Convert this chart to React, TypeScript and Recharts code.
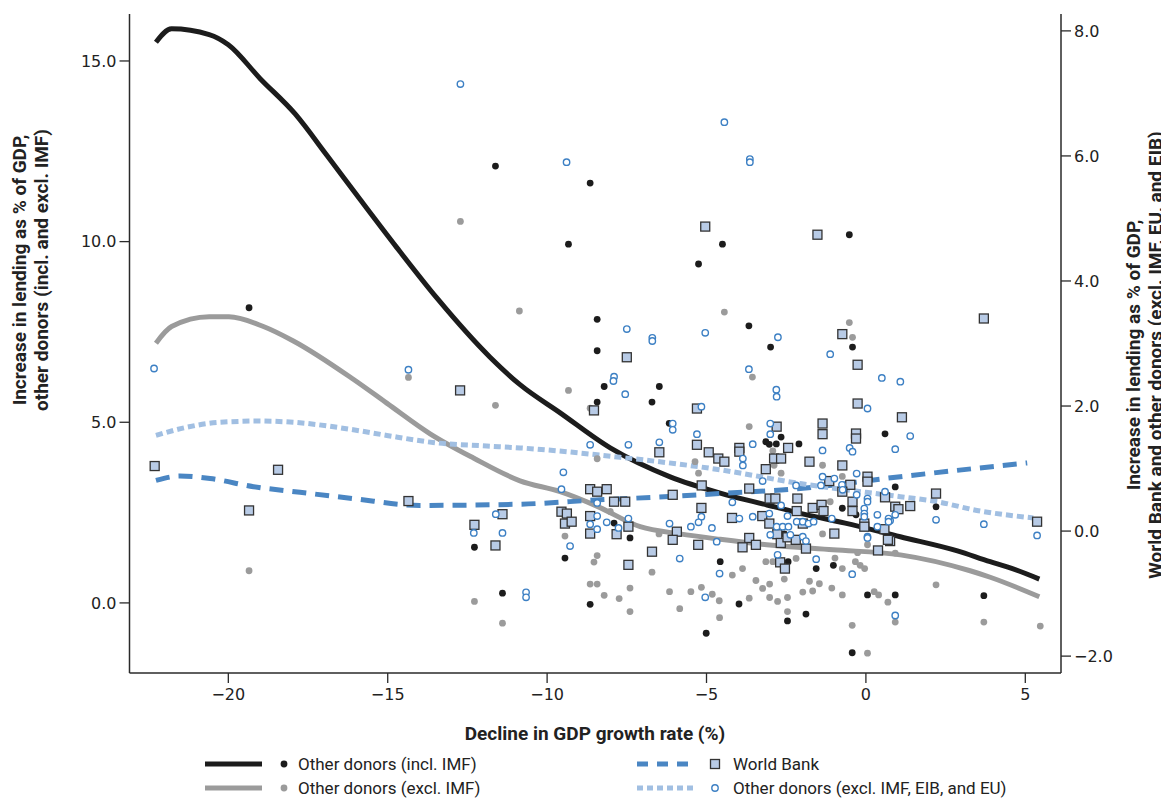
import React from "react";
import { ComposedChart, Line, Scatter, XAxis, YAxis } from "recharts";

// lowess fits, [decline in GDP growth, lending % of GDP]
const inclImfFit: [number, number][] = [
  [-22.27, 15.52], [-21.78, 15.89], [-20.6, 15.73], [-20.0, 15.45], [-19.0, 14.51],
  [-17.91, 13.54], [-16.91, 12.39], [-15.87, 11.17], [-14.72, 9.84], [-13.46, 8.44],
  [-11.79, 6.8], [-10.85, 6.04], [-9.59, 5.26], [-8.02, 4.29], [-6.14, 3.49],
  [-4.57, 3.04], [-3.1, 2.71], [-2.06, 2.48], [-0.65, 2.21], [1.08, 1.83],
  [2.87, 1.44], [3.9, 1.14], [4.43, 1.0], [5.44, 0.66],
];
const exclImfFit: [number, number][] = [
  [-22.27, 7.19], [-21.78, 7.65], [-20.6, 7.92], [-19.98, 7.92], [-18.9, 7.65],
  [-17.96, 7.25], [-16.08, 6.19], [-15.03, 5.53], [-13.67, 4.68], [-12.31, 4.01],
  [-10.85, 3.38], [-9.59, 3.08], [-8.44, 2.68], [-7.08, 2.11], [-5.83, 1.91],
  [-4.57, 1.76], [-3.11, 1.61], [-1.03, 1.47], [1.08, 1.33], [3.27, 0.89],
  [3.9, 0.71], [5.44, 0.17],
];
const worldBankFit: [number, number][] = [
  [-22.27, 0.81], [-21.52, 0.88], [-20.57, 0.84], [-19.21, 0.71], [-17.75, 0.62],
  [-16.08, 0.52], [-13.99, 0.41], [-10.85, 0.43], [-8.34, 0.5], [-6.67, 0.54],
  [-4.57, 0.6], [-2.06, 0.68], [1.08, 0.87], [5.06, 1.09],
];
const otherFit: [number, number][] = [
  [-22.27, 1.53], [-21.31, 1.66], [-20.27, 1.74], [-19.01, 1.76], [-17.96, 1.74],
  [-16.08, 1.62], [-15.03, 1.53], [-13.46, 1.41], [-11.89, 1.36], [-10.85, 1.33],
  [-7.71, 1.18], [-4.57, 0.98], [-2.06, 0.76], [1.08, 0.55], [2.12, 0.48],
  [3.59, 0.32], [5.25, 0.21],
];

// country observations
const inclImfPts: [number, number][] = [
  [-11.62, 12.09], [-19.35, 8.17], [-12.28, 1.54], [-11.4, 0.27], [-8.65, 11.62],
  [-9.33, 9.93], [-5.25, 9.38], [-4.5, 9.93], [-8.43, 7.85], [-8.43, 6.98],
  [-0.52, 10.19], [-3.67, 7.67], [-2.99, 7.08], [-0.42, 7.08], [0.92, 3.21],
  [2.2, 2.66], [0.92, 0.22], [3.7, 0.2], [-8.21, 5.99], [-6.48, 5.99],
  [-8.43, 5.56], [-6.71, 5.56], [-6.17, 4.97], [-9.44, 1.24], [-7.9, 2.21],
  [-7.4, 1.8], [-8.65, -0.04], [-5.01, -0.84], [-4.57, 1.14], [-3.14, 4.46],
  [-3.03, 4.39], [-2.81, 4.4], [-2.66, 4.59], [-2.1, 4.4], [-2.56, 1.91],
  [0.6, 4.68], [-0.74, 2.62], [-0.31, 2.44], [-2.44, 1.14], [-1.56, 0.95],
  [-1.02, 1.04], [0.05, 0.22], [-0.43, -1.38], [-3.98, -0.03], [-2.46, -0.5],
  [-1.88, -0.31],
];
const exclImfPts: [number, number][] = [
  [-12.72, 10.56], [-10.87, 8.08], [-14.35, 6.24], [-11.62, 5.47], [-12.28, 0.04],
  [-19.35, 0.89], [-11.4, -0.56], [-4.44, 8.05], [-0.52, 7.76], [-0.42, 7.35],
  [-3.56, 6.25], [0.92, 1.38], [2.2, 0.5], [0.92, -0.53], [3.7, -0.53],
  [5.47, -0.64], [-9.33, 5.88], [-8.65, 5.39], [-8.43, 3.99], [-5.36, 3.91],
  [-5.25, 3.59], [-9.44, 1.85], [-8.02, 2.53], [-8.43, 1.31], [-8.53, 1.13],
  [-6.49, 1.91], [-6.71, 0.85], [-8.65, 0.52], [-8.43, 0.52], [-8.21, 0.21],
  [-7.74, 0.12], [-7.4, 0.41], [-7.4, -0.24], [-6.16, 0.31], [-5.84, -0.16],
  [-5.49, 0.31], [-5.16, 0.43], [-4.82, 0.24], [-4.6, 0.06], [-4.59, -0.41],
  [-3.66, 4.88], [-2.92, 4.21], [-2.88, 3.81], [-2.66, 3.59], [-1.36, 3.81],
  [-0.74, 3.5], [-1.12, 2.8], [-1.36, 1.91], [0.05, 1.61], [-4.19, 0.77],
  [-3.87, 0.95], [-3.14, 1.14], [-2.92, 1.14], [-3.45, 0.62], [-3.24, 0.4],
  [-3.02, 0.52], [-2.56, 0.66], [-2.19, 1.23], [-1.77, 0.6], [-1.46, 0.53],
  [-1.67, 0.33], [-1.98, 0.3], [-0.97, 1.24], [-0.74, 0.95], [-0.33, 1.14],
  [-0.18, 1.04], [-0.04, 0.95], [-0.26, 1.39], [-1.07, 0.41], [-0.74, 0.22],
  [0.26, 0.31], [0.4, 0.22], [0.69, 0.02], [-0.43, -0.62], [0.05, -1.39],
  [-3.66, 0.13], [-3.02, 0.15], [-2.77, 0.04], [-2.46, 0.15], [-2.46, -0.24],
];
const worldBankPts: [number, number][] = [
  [-12.73, 2.25], [-22.31, 1.04], [-18.44, 0.98], [-19.35, 0.33], [-14.35, 0.48],
  [-11.4, 0.27], [-12.28, 0.1], [-11.62, -0.23], [-5.04, 4.87], [-7.5, 2.78],
  [-1.52, 4.74], [-0.74, 3.15], [-0.26, 2.66], [3.7, 3.4], [1.13, 1.82],
  [2.2, 0.6], [0.92, 0.39], [1.02, 0.35], [1.39, 0.4], [5.37, 0.15],
  [0.76, -0.16], [-8.53, 1.93], [-5.3, 1.96], [-5.3, 1.38], [-6.48, 1.26],
  [-4.93, 1.26], [-4.63, 1.16], [-8.65, 0.67], [-8.43, 0.63], [-8.13, 0.67],
  [-7.9, 0.47], [-7.55, 0.47], [-6.06, 0.58], [-5.15, 0.73], [-5.16, 0.37],
  [-9.55, 0.31], [-9.38, 0.28], [-9.44, 0.12], [-9.23, 0.15], [-8.65, 0.24],
  [-8.65, -0.04], [-7.82, -0.05], [-7.45, 0.07], [-5.93, -0.01], [-6.06, -0.14],
  [-5.26, -0.22], [-6.71, -0.33], [-7.45, -0.54], [-2.8, 1.67], [-2.44, 1.33],
  [-3.97, 1.33], [-3.97, 1.27], [-4.44, 1.11], [-2.88, 1.16], [-2.66, 1.16],
  [-3.14, 0.99], [-3.66, 0.68], [-3.02, 0.52], [-2.84, 0.52], [-2.15, 0.52],
  [-4.2, 0.21], [-3.25, 0.24], [-3.03, 0.12], [-2.17, 0.32], [-2.78, -0.05],
  [-3.66, -0.11], [-0.26, 2.04], [-1.36, 1.72], [-1.36, 1.55], [-0.31, 1.56],
  [-0.31, 1.48], [-1.77, 1.11], [-0.74, 1.05], [0.05, 0.87], [0.05, 0.79],
  [-1.15, 0.8], [-0.49, 0.74], [-0.74, 0.63], [0.6, 0.54], [-1.67, 0.37],
  [-1.39, 0.42], [-1.33, 0.32], [-0.42, 0.47], [-0.42, 0.32], [-1.98, 0.12],
  [-0.05, 0.12], [-0.05, 0.07], [0.58, 0.03], [-0.99, -0.04], [-3.87, -0.26],
  [-3.45, -0.22], [-2.67, -0.19], [-2.46, -0.1], [-2.2, -0.14], [-1.88, -0.28],
  [0.38, -0.31], [0.69, -0.14], [-2.69, -0.5], [-2.54, -0.6],
];
const otherPts: [number, number][] = [
  [-12.72, 7.15], [-22.33, 2.6], [-14.35, 2.58], [-11.61, 0.27], [-12.3, -0.03],
  [-11.4, -0.03], [-9.39, 5.9], [-7.5, 3.23], [-6.7, 3.09], [-6.7, 3.04],
  [-5.04, 3.17], [-7.9, 2.47], [-4.44, 6.54], [-3.64, 5.95], [-3.64, 5.9],
  [-2.76, 3.1], [-1.12, 2.83], [-3.67, 2.59], [-2.81, 2.26], [0.5, 2.45],
  [1.08, 2.39], [1.39, 1.52], [0.92, 1.31], [0.76, 0.17], [2.2, 0.18],
  [3.7, 0.11], [5.37, -0.07], [0.92, -1.35], [-7.92, 2.4], [-7.55, 2.19],
  [-5.16, 1.99], [-6.06, 1.72], [-6.06, 1.62], [-5.3, 1.55], [-8.65, 1.38],
  [-7.45, 1.38], [-6.48, 1.42], [-9.49, 0.94], [-9.55, 0.67], [-8.43, 0.45],
  [-5.16, 0.23], [-5.25, 0.14], [-5.49, 0.07], [-4.83, 0.05], [-4.68, -0.17],
  [-4.59, -0.68], [-9.28, -0.24], [-8.43, 0.24], [-8.65, 0.11], [-8.43, 0.03],
  [-8.13, 0.14], [-7.76, 0.05], [-7.45, 0.2], [-6.16, 0.12], [-5.84, -0.44],
  [-5.04, -1.06], [-10.66, -0.98], [-10.66, -1.06], [-2.8, 2.15], [-3.0, 1.72],
  [-3.0, 1.55], [-3.55, 1.39], [-3.86, 1.16], [-3.86, 1.05], [-3.24, 0.8],
  [-4.19, 0.46], [-2.66, 0.41], [-2.19, 0.73], [-3.97, 0.2], [-3.55, 0.23],
  [-3.03, 0.28], [-2.46, 0.24], [-2.17, 0.15], [-2.8, 0.07], [-2.61, 0.07],
  [-2.43, 0.07], [-3.0, -0.06], [-2.37, -0.06], [0.05, 1.96], [-1.36, 1.29],
  [-0.51, 1.33], [-0.42, 1.27], [-0.29, 0.92], [-0.99, 0.84], [-1.36, 0.87],
  [-1.41, 0.73], [-0.75, 0.74], [-0.73, 0.66], [-0.29, 0.58], [0.6, 0.63],
  [0.05, 0.52], [0.05, 0.47], [-0.05, 0.36], [-0.05, 0.28], [-0.05, 0.23],
  [0.36, 0.26], [0.92, 0.26], [0.71, 0.2], [0.71, 0.15], [-1.98, 0.15],
  [-1.8, 0.12], [-1.64, 0.15], [-1.07, 0.2], [0.36, 0.07], [-1.98, -0.09],
  [0.05, -0.09], [-1.88, -0.16], [0.05, -0.11], [-2.77, -0.38], [-1.56, -0.45],
  [-0.43, -0.69],
];

const xTicks = [-20, -15, -10, -5, 0, 5];
const leftTicks = [0, 5, 10, 15];
const rightTicks = [-2, 0, 2, 4, 6, 8];

const BLACK = "#1c1c1c";
const GRAY = "#9b9b9b";
const BLUE = "#4a86c3";
const LIGHTBLUE = "#a1bfe2";
const SQUARE_FILL = "#b8cbe6";
const AXIS = "#2a2a2a";

const toRows = (pts: [number, number][]) => pts.map(([x, y]) => ({ x, y }));
const fmt = (v: number, d: number) =>
  (v < 0 ? "\u2212" : "") + Math.abs(v).toFixed(d);

const tickFont = { fontFamily: "DejaVu Sans", fontSize: 16, fill: "#222" };
const titleFont = { fontFamily: "Roboto", fontWeight: 700, fontSize: 19, fill: "#222" };

const dotShape = (color: string) => (p: any) =>
  <circle cx={p.cx} cy={p.cy} r={3.4} fill={color} />;
const squareShape = (p: any) => (
  <rect x={p.cx - 4.5} y={p.cy - 4.5} width={9} height={9} fill={SQUARE_FILL} stroke="#333" strokeWidth={1.3} />
);
const ringShape = (p: any) => (
  <circle cx={p.cx} cy={p.cy} r={3.2} fill="#fff" stroke="#3d80c4" strokeWidth={1.4} />
);

export default function App() {
  // chart box; the outer box also holds the titles and legend
  const W = 1153;
  const H = 783;
  const OW = 1161;
  const OH = 791;
  return (
    <div style={{ position: "relative", width: OW, height: OH }}>
      <ComposedChart width={W} height={H} margin={{ top: 6, right: 40, bottom: 78, left: 41.5 }}>
        <XAxis
          type="number"
          dataKey="x"
          domain={[-23.1, 6.12]}
          ticks={xTicks}
          allowDataOverflow
          tickFormatter={(v) => fmt(v, 0)}
          tick={tickFont}
          tickSize={10}
          tickMargin={6}
          height={40}
          axisLine={{ stroke: AXIS, strokeWidth: 1.5 }}
          tickLine={{ stroke: AXIS, strokeWidth: 1.3 }}
        />
        <YAxis
          yAxisId="left"
          type="number"
          dataKey="y"
          domain={[-1.94, 16.3]}
          ticks={leftTicks}
          allowDataOverflow
          tickFormatter={(v) => fmt(v, 1)}
          tick={tickFont}
          tickSize={10}
          tickMargin={3}
          width={80}
          axisLine={{ stroke: AXIS, strokeWidth: 1.5 }}
          tickLine={{ stroke: AXIS, strokeWidth: 1.3 }}
        />
        <YAxis
          yAxisId="right"
          orientation="right"
          type="number"
          dataKey="y"
          domain={[-2.27, 8.27]}
          ticks={rightTicks}
          allowDataOverflow
          tickFormatter={(v) => fmt(v, 1)}
          tick={{ ...tickFont, textAnchor: "start" }}
          tickSize={10}
          tickMargin={3}
          width={60}
          axisLine={{ stroke: AXIS, strokeWidth: 1.5 }}
          tickLine={{ stroke: AXIS, strokeWidth: 1.3 }}
        />

        <Scatter yAxisId="left" data={toRows(exclImfPts)} shape={dotShape(GRAY)} isAnimationActive={false} />
        <Scatter yAxisId="left" data={toRows(inclImfPts)} shape={dotShape(BLACK)} isAnimationActive={false} />
        <Scatter yAxisId="right" data={toRows(worldBankPts)} shape={squareShape} isAnimationActive={false} />
        <Scatter yAxisId="right" data={toRows(otherPts)} shape={ringShape} isAnimationActive={false} />

        <Line yAxisId="left" data={toRows(inclImfFit)} dataKey="y" type="monotone" stroke={BLACK}
          strokeWidth={5} dot={false} activeDot={false} isAnimationActive={false} />
        <Line yAxisId="left" data={toRows(exclImfFit)} dataKey="y" type="monotone" stroke={GRAY}
          strokeWidth={5} dot={false} activeDot={false} isAnimationActive={false} />
        <Line yAxisId="right" data={toRows(worldBankFit)} dataKey="y" type="monotone" stroke={BLUE}
          strokeWidth={5} strokeDasharray="14 9" dot={false} activeDot={false} isAnimationActive={false} />
        <Line yAxisId="right" data={toRows(otherFit)} dataKey="y" type="monotone" stroke={LIGHTBLUE}
          strokeWidth={5} strokeDasharray="7 4" dot={false} activeDot={false} isAnimationActive={false} />
      </ComposedChart>

      {/* titles and legend */}
      <svg width={OW} height={OH} style={{ position: "absolute", left: 0, top: 0, pointerEvents: "none" }}>
        <g transform="translate(18,262) rotate(-90)">
          <text x={0} y={0} textAnchor="middle" {...titleFont}>Increase in lending as % of GDP,</text>
          <text x={0} y={22} textAnchor="middle" {...titleFont}>other donors (incl. and excl. IMF)</text>
        </g>
        <g transform="translate(1132,347) rotate(-90)">
          <text x={0} y={0} textAnchor="middle" {...titleFont}>Increase in lending as % of GDP,</text>
          <text x={0} y={22} textAnchor="middle" {...titleFont}>World Bank and other donors (excl. IMF, EU, and EIB)</text>
        </g>
        <text x={587} y={732} textAnchor="middle" {...titleFont}>Decline in GDP growth rate (%)</text>

        <g fontFamily="Roboto" fontSize={17} fill="#222">
          <line x1={197} x2={254} y1={756} y2={756} stroke={BLACK} strokeWidth={5} />
          <circle cx={276} cy={756} r={3.4} fill={BLACK} />
          <text x={290} y={762}>Other donors (incl. IMF)</text>

          <line x1={197} x2={254} y1={780} y2={780} stroke={GRAY} strokeWidth={5} />
          <circle cx={276} cy={780} r={3.4} fill={GRAY} />
          <text x={290} y={786}>Other donors (excl. IMF)</text>

          <line x1={629} x2={686} y1={756} y2={756} stroke={BLUE} strokeWidth={5} strokeDasharray="11 9" />
          <rect x={702.5} y={751.5} width={9} height={9} fill={SQUARE_FILL} stroke="#333" strokeWidth={1.3} />
          <text x={725} y={762}>World Bank</text>

          <line x1={629} x2={686} y1={780} y2={780} stroke={LIGHTBLUE} strokeWidth={5} strokeDasharray="6 4" />
          <circle cx={707} cy={780} r={3.2} fill="#fff" stroke="#3d80c4" strokeWidth={1.4} />
          <text x={725} y={786}>Other donors (excl. IMF, EIB, and EU)</text>
        </g>
      </svg>
    </div>
  );
}
